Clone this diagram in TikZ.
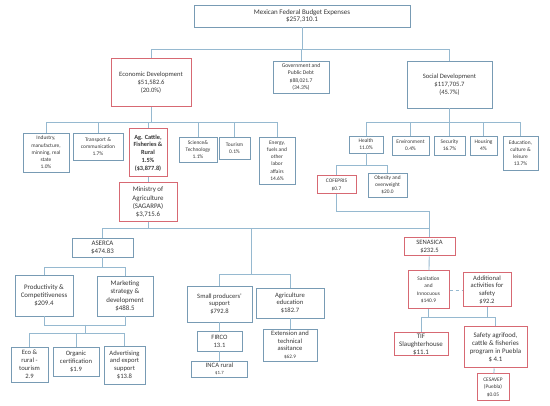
\documentclass[tikz,border=0pt]{standalone}
\usepackage{fontspec}
\setmainfont{Carlito}
\definecolor{boxblue}{RGB}{120,155,180}
\definecolor{lineblue}{RGB}{150,185,208}
\definecolor{boxred}{RGB}{215,105,115}
\definecolor{txt}{RGB}{55,55,55}
\begin{document}
\begin{tikzpicture}[x=1pt, y=-1pt]
\tikzset{b/.style={draw=boxblue, line width=0.8pt, fill=white, text=txt, align=center, inner sep=0.5pt},
r/.style={b, draw=boxred, line width=1pt},
sz/.style 2 args={minimum width=#1pt, minimum height=#2pt},
fa/.style={font=\fontsize{5.4}{7.2}\selectfont},
fb/.style={font=\fontsize{6.6}{7.9}\selectfont},
fc/.style={font=\fontsize{6.9}{8.3}\selectfont},
l/.style={draw=lineblue, line width=0.9pt}};
\useasboundingbox (0,0) rectangle (550,406);

% top levels
\node[b, sz={216}{22}, font=\fontsize{7}{7.8}\selectfont] (top) at (302,16) {Mexican Federal Budget Expenses\\\$257,310.1};
\node[r, fb, sz={80}{48}] (econ) at (151,83) {Economic Development\\\$51,582.6\\(20.0\%)};
\node[b, sz={56}{32}, font=\fontsize{5.6}{7.3}\selectfont] (gov) at (301,77) {Government and\\Public Debt\\\$88,021.7\\(34.3\%)};
\node[b, fb, sz={85}{47}] (social) at (449.5,84.5) {Social Development\\\$117,705.7\\(45.7\%)};

% economic development
\node[b, fa, sz={46}{39}] (industry) at (46,152.5) {Industry,\\manufacture,\\minning, real\\state\\1.0\%};
\node[b, fa, sz={50}{27}] (transport) at (98,146.5) {Transport \&\\communication\\1.7\%};
\node[r, sz={38}{48}, font=\fontsize{6.3}{7.8}\selectfont\bfseries] (ag) at (148,153) {Ag. Cattle,\\Fisheries \&\\Rural\\1.5\%\\(\$3,877.8)};
\node[b, fa, sz={38}{25}] (science) at (198,149.5) {Science\&\\Technology\\1.1\%};
\node[b, fa, sz={31}{22}] (tourism) at (234.5,148) {Tourism\\0.1\%};
\node[b, fa, sz={36}{47}] (energy) at (277,160.5) {Energy,\\fuels and\\other\\labor\\affairs\\14.6\%};
\node[r, fc, sz={58}{39}] (ministry) at (148,202.5) {Ministry of\\Agriculture\\(SAGARPA)\\\$3,715.6};

% agriculture programs
\node[b, fc, sz={61}{19}] (aserca) at (102.5,247.5) {ASERCA\\\$474.83};
\node[b, fc, sz={58}{41}] (prod) at (44,295.5) {Productivity \&\\Competitiveness\\\$209.4};
\node[b, fc, sz={56}{40}] (mkt) at (125,296) {Marketing\\strategy \&\\development\\\$488.5};
\node[b, fb, sz={37}{35}] (eco) at (29.5,364.5) {Eco \&\\rural -\\tourism\\2.9};
\node[b, fb, sz={46}{29}] (organic) at (76,361.5) {Organic\\certification\\\$1.9};
\node[b, fb, sz={41}{38}] (advert) at (124.5,365) {Advertising\\and export\\support\\\$13.8};
\node[b, fb, sz={65}{36}] (smallp) at (219.5,304) {Small producers’\\support\\\$792.8};
\node[b, fb, sz={68}{30}] (agedu) at (290,303) {Agriculture\\education\\\$182.7};
\node[b, fb, sz={45}{20}] (firco) at (219.5,341) {FIRCO\\13.1};
\node[b, fb, sz={56}{16}] (inca) at (219.5,369) {INCA rural\\{\fontsize{4.8}{5.5}\selectfont\$1.7}};
\node[b, fb, sz={54}{32}] (extension) at (290,345) {Extension and\\technical\\assitance\\{\fontsize{5.2}{6}\selectfont\$62.9}};

% social development
\node[b, fa, sz={34}{17}] (health) at (366,144.5) {Health\\11.0\%};
\node[b, fa, sz={37}{19}] (environment) at (410.5,145.5) {Environment\\0.4\%};
\node[b, fa, sz={31}{19}] (security) at (449.5,145.5) {Security\\16.7\%};
\node[b, fa, sz={27}{19}] (housing) at (483.5,145.5) {Housing\\4\%};
\node[b, fa, sz={35}{34}] (education) at (520.5,153) {Education,\\culture \&\\leisure\\13.7\%};
\node[r, fa, sz={39}{18}] (cofepris) at (336.5,185) {COFEPRIS\\\$0.7};
\node[b, fa, sz={39}{24}] (obesity) at (387.5,185) {Obesity and\\overweight\\\$20.0};
\node[r, fb, sz={51}{18}] (senasica) at (429.5,247) {SENASICA\\\$232.5};
\node[r, fa, sz={41}{38}] (sanit) at (428.5,290) {Sanitation\\and\\Innocuous\\\$140.9};
\node[r, fb, sz={48}{34}] (addl) at (487,290) {Additional\\activities for\\safety\\\$92.2};
\node[r, fc, sz={54}{23}] (tif) at (421,344.5) {TIF\\Slaughterhouse\\\$11.1};
\node[r, fc, sz={63}{41}] (safety) at (495.5,347.5) {Safety agrifood,\\cattle \& fisheries\\program in Puebla\\\$ 4.1};
\node[r, fa, sz={32}{27}] (cesavep) at (493,387.5) {CESAVEP\\(Puebla)\\\$0.05};

\coordinate (mid) at (251,274);
\coordinate (mrg) at (85,325);

% connectors
\foreach \c in {econ, gov, social} {
	\draw[l] (top.south) -- ++(0,22) -| (\c.north);
}
\foreach \c in {industry, transport, ag, science, tourism, energy} {
	\draw[l] (econ.south) -- ++(0,15) -| (\c.north);
}
\draw[l] (ag) -- (ministry);
\foreach \c in {aserca, mid, senasica} {
	\draw[l] (ministry.south) -- ++(0,6) -| (\c);
}
\foreach \c in {smallp, agedu} {
	\draw[l] (mid) -| (\c.north);
}
\foreach \c in {prod, mkt} {
	\draw[l] (aserca.south) -- ++(0,10) -| (\c.north);
	\draw[l] (\c.south) |- (mrg);
}
\foreach \c in {eco, organic, advert} {
	\draw[l] (mrg) -- ++(0,8) -| (\c.north);
}
\draw[l] (smallp) -- (firco);
\draw[l] (firco) -- (inca);
\draw[l] (agedu) -- (extension);

\foreach \c in {health, environment, security, housing, education} {
	\draw[l] (social.south) -- ++(0,14) -| (\c.north);
}
\foreach \c in {cofepris, obesity} {
	\draw[l] (health.south) -- ++(0,12) -| (\c.north);
}
\draw[l] (cofepris.south) -- ++(0,17) -| (senasica.north);
\draw[l] (senasica) -- (sanit);
\draw[l, dashed] (sanit) -- (addl);
\draw[l] (sanit.south) -- ++(0,8) -| (safety.north);
\draw[l] (addl.south) -- ++(0,10) -| (tif.north);
\draw[l] (safety) -- (cesavep);

\end{tikzpicture}
\end{document}
